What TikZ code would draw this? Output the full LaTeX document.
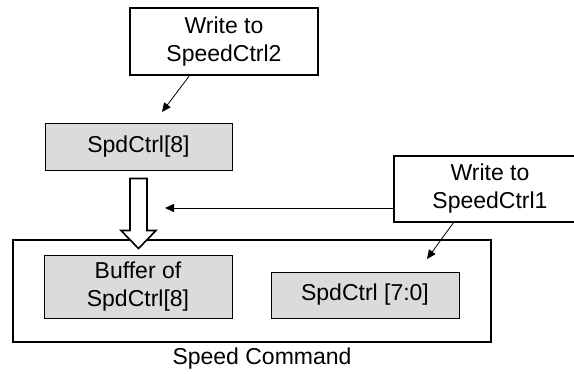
\documentclass[tikz,border=0pt]{standalone}
\usepackage{fontspec}
\setmainfont{Liberation Sans}
\usetikzlibrary{arrows.meta}
\tikzset{
  regbox/.style={draw, fill=black!14, line width=1pt, inner sep=0pt, align=center},
  notebox/.style={draw, fill=white, line width=1.5pt, inner sep=0pt, align=center},
  wr/.style={-{Triangle[length=9pt,width=8pt]}, line width=0.8pt}
}
\begin{document}
\begin{tikzpicture}[x=1pt, y=-1pt, font=\fontsize{23}{28}\selectfont]
\useasboundingbox (0,0) rectangle (574,373);

\node [draw, line width=2.5pt, minimum width=478pt, minimum height=102pt] (cmd) at (252,291) {};
\node [regbox, minimum width=188pt, minimum height=63pt] (buf) at (138,286.5) {Buffer of\\SpdCtrl[8]};
\node [regbox, minimum width=188pt, minimum height=46pt] (low) at (365,295) {SpdCtrl [7:0]};
\node at (262,359) (cmdlabel) {Speed Command};

\node [regbox, minimum width=187pt, minimum height=47pt] (high) at (138.5,146.5) {SpdCtrl[8]};
\node [notebox, minimum width=188pt, minimum height=67pt] (wr2) at (224,41.5) {Write to\\SpeedCtrl2};
\node [notebox, minimum width=192pt, minimum height=66pt] (wr1) at (490,189) {Write to\\SpeedCtrl1};

\coordinate (hightip) at (162,112);
\coordinate (bufmark) at (165,208);
\coordinate (lowtip) at (427,259);

\draw [wr] (190,75) coordinate (wr2foot) -- (hightip);
\draw [wr] (wr1.west |- bufmark) -- (bufmark);
\draw [wr] (454,222) coordinate (wr1foot) -- (lowtip);

\draw [line width=1.6pt, fill=white, line join=miter]
  ([xshift=-8.5pt, yshift=-8pt]high.south) -- ([xshift=8.5pt, yshift=-8pt]high.south)
  -- ([xshift=8.5pt, yshift=-60pt]high.south) -- ([xshift=17.5pt, yshift=-60pt]high.south)
  -- ([yshift=-78pt]high.south) -- ([xshift=-17.5pt, yshift=-60pt]high.south)
  -- ([xshift=-8.5pt, yshift=-60pt]high.south) -- cycle;

\end{tikzpicture}
\end{document}
